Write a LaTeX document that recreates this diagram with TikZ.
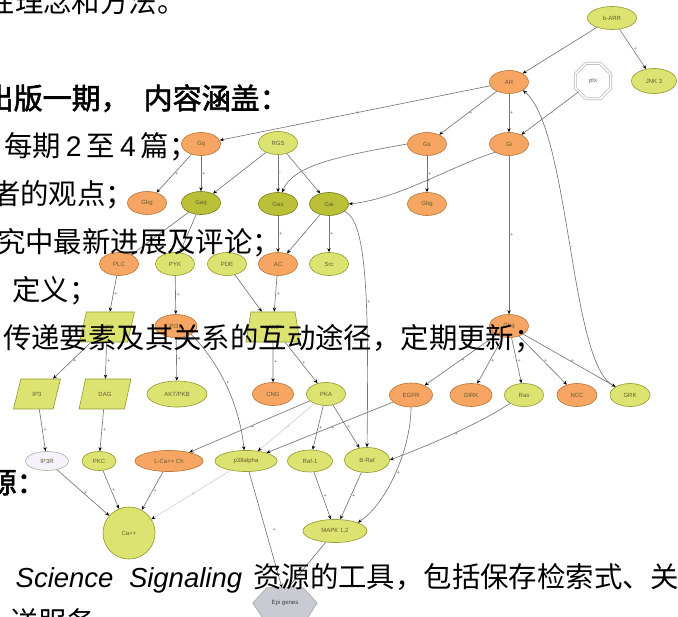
\documentclass[tikz,border=0pt]{standalone}
\usepackage{fontspec}
\setmainfont{Liberation Sans}
\newfontfamily\lat{Liberation Sans}
\newfontfamily\cjk{Noto Sans CJK SC}
\newfontfamily\cjkbold{Noto Sans CJK SC}[FakeBold=2]
\usetikzlibrary{shapes.geometric,arrows.meta,positioning}

\definecolor{orngfill}{RGB}{246,166,98}
\definecolor{orngline}{RGB}{185,120,62}
\definecolor{grnfill}{RGB}{221,227,112}
\definecolor{grnline}{RGB}{150,156,52}
\definecolor{olvfill}{RGB}{186,193,56}
\definecolor{olvline}{RGB}{122,128,32}
\definecolor{labeltxt}{RGB}{100,92,50}
\definecolor{edgegray}{RGB}{118,118,118}
\definecolor{lavfill}{RGB}{246,242,250}
\definecolor{epifill}{RGB}{200,204,210}

\tikzset{
  bio/.style={ellipse, draw, line width=0.65pt, minimum width=39pt, minimum height=23pt,
    inner sep=0.5pt, font=\fontsize{6}{6}\selectfont, text=labeltxt},
  orng/.style={bio, fill=orngfill, draw=orngline},
  grn/.style={bio, fill=grnfill, draw=grnline},
  olv/.style={bio, fill=olvfill, draw=olvline},
  para/.style={trapezium, trapezium left angle=68, trapezium right angle=112, trapezium stretches=true,
    draw=grnline, fill=grnfill, line width=0.65pt, minimum width=52pt, minimum height=30pt,
    inner sep=1pt, font=\fontsize{6}{6}\selectfont, text=labeltxt},
  conn/.style={draw=edgegray, line width=0.65pt, -{Stealth[length=4pt, width=3.4pt, color=black]}},
  faint/.style={conn, draw=gray!35},
  sgn/.style={right, font=\fontsize{5.5}{5.5}\selectfont, text=gray!80!black, inner sep=0.8pt},
  txt/.style={anchor=base west, inner sep=0pt, font=\cjk\fontsize{28.4}{30}\selectfont},
  head/.style={txt, font=\cjkbold\fontsize{29}{30}\selectfont},
}

\begin{document}
\begin{tikzpicture}[x=1pt, y=-1pt]
\useasboundingbox (0,0) rectangle (678,617);

% receptors
\node[grn, minimum width=49pt] (bARR) at (612,18) {b-ARR};
\node[grn, minimum width=45pt, minimum height=25pt] (JNK) at (654,81) {JNK 3};
\node[orng] (AR) at (509,82) {AR};
\node[regular polygon, regular polygon sides=8, minimum size=38pt, inner sep=0pt, draw=gray!55,
  double=white, double distance=1.6pt, line width=0.7pt, font=\fontsize{6}{6}\selectfont,
  text=labeltxt] (ptx) at (593,81) {ptx};

% G proteins
\node[orng] (Gq) at (201,144) {Gq};
\node[grn] (RGS) at (278,143) {RGS};
\node[orng] (Gs) at (427,144) {Gs};
\node[orng] (Gi) at (509,144) {Gi};
\node[orng] (Gbgl) at (147,203) {Gbg};
\node[olv] (Gaq) at (201,203) {Gaq};
\node[olv] (Gas) at (278,204) {Gas};
\node[olv] (Gai) at (329,204) {Gai};
\node[orng] (Gbgr) at (427,204) {Gbg};

% effectors
\node[orng] (PLC) at (119,264) {PLC};
\node[grn] (PYK) at (175,264) {PYK};
\node[grn] (PDE) at (227,264) {PDE};
\node[orng] (AC) at (278,264) {AC};
\node[grn] (Src) at (329,264) {Src};

\node[para, minimum width=55pt] (PIP2) at (107,327) {PIP2};
\node[orng, minimum width=42pt] (PI3K) at (176,326) {PI3K};
\node[trapezium, trapezium angle=72, trapezium stretches=true, draw=grnline, fill=grnfill,
  line width=0.65pt, minimum width=54pt, minimum height=30pt, inner sep=1pt,
  font=\fontsize{6}{6}\selectfont, text=labeltxt] (cAMP) at (273,327) {cAMP};
\node[orng] (Gbgm) at (509,326) {Gbg};

% second row of targets
\node[para, minimum width=47pt] (IP3) at (37,394) {IP3};
\node[para] (DAG) at (105,394) {DAG};
\node[grn, minimum width=60pt, minimum height=26pt] (AKT) at (177,394) {AKT/PKB};
\node[orng, minimum width=41pt] (CNG) at (273,394) {CNG};
\node[grn] (PKA) at (326,394) {PKA};
\node[orng, minimum width=43pt, minimum height=24pt] (EGFR) at (411,395) {EGFR};
\node[orng, minimum width=42pt] (GIRK) at (471,395) {GIRK};
\node[grn] (Ras) at (524,395) {Ras};
\node[orng, minimum width=40pt] (NCC) at (577,395) {NCC};
\node[grn, minimum width=40pt] (GRK) at (630,395) {GRK};

% kinases and channels
\node[bio, fill=lavfill, draw=gray!60, minimum width=43pt, minimum height=19pt] (IP3R) at (47,461) {IP3R};
\node[grn, minimum width=34pt, minimum height=19pt] (PKC) at (99,461) {PKC};
\node[orng, minimum width=68pt, minimum height=21pt] (LCa) at (169,461) {L-Ca++ Ch};
\node[grn, minimum width=62pt, minimum height=21pt] (p38) at (246,461) {p38alpha};
\node[grn, minimum width=45pt, minimum height=22pt] (Raf) at (310,461) {Raf-1};
\node[grn, minimum width=45pt, minimum height=25pt] (BRaf) at (367,460) {B-Raf};
\node[circle, draw=grnline, fill=grnfill, line width=0.65pt, minimum size=52pt,
  font=\fontsize{6}{6}\selectfont, text=labeltxt] (Ca) at (129,533) {Ca++};
\node[grn, minimum width=64pt] (MAPK) at (335,531) {MAPK 1,2};
\node[minimum width=64pt, minimum height=30pt, inner sep=0pt] (epi) at (285,603) {};
\fill[epifill, draw=gray!70, line width=0.65pt] (epi.west) -- ([xshift=14pt]epi.north west)
  -- ([xshift=-14pt]epi.north east) -- (epi.east) -- ([xshift=-10pt]epi.south east)
  -- ([xshift=10pt]epi.south west) -- cycle;
\node[font=\fontsize{6}{6}\selectfont, text=gray!50!black] at (epi) {Epi genes};

% connectors
\draw[conn] (bARR) -- node[sgn] {-} (AR);
\draw[conn] (bARR) -- node[sgn] {+} (JNK);
\draw[conn] (AR) -- node[sgn] {+} (Gq);
\draw[conn] (AR) -- node[sgn] {+} (Gs);
\draw[conn] (AR) -- node[sgn] {+} (Gi);
\draw[conn] (ptx) -- node[sgn] {-} (Gi);
\draw[conn] (GRK.north west) .. controls +(-46,-15) and +(48,40) .. node[sgn] {-} (AR.south east);

\draw[conn] (Gq) -- node[sgn] {+} (Gbgl);
\draw[conn] (Gq) -- node[sgn] {+} (Gaq);
\draw[conn] (RGS) -- node[sgn] {-} (Gaq);
\draw[conn] (RGS) -- node[sgn] {-} (Gas);
\draw[conn] (RGS) -- node[sgn] {-} (Gai);
\draw[conn] (Gs.west) .. controls +(-68,12) and +(10,-27) .. (Gas.70);
\draw[conn] (Gs) -- node[sgn] {+} (Gbgr);
\draw[conn] (Gi.south west) .. controls +(-40,12) and +(50,-5) .. node[sgn] {+} (Gai.east);
\draw[conn] (Gi) -- node[sgn] {+} (Gbgm);

\draw[conn] (Gaq) -- (PLC);
\draw[conn] (Gaq) -- (PYK);
\draw[conn] (Gas) -- node[sgn] {+} (AC);
\draw[conn] (Gai) -- node[sgn] {-} (AC);
\draw[conn] (Gai) -- node[sgn] {+} (Src);
\draw[conn] (Gai.-25) .. controls +(22,10) and +(2,-150) .. node[sgn, pos=.6] {+} (BRaf.north);

\draw[conn] (PLC) -- node[sgn] {+} (PIP2);
\draw[conn] (PYK) -- node[sgn] {+} (PI3K);
\draw[conn] (PDE) -- (cAMP);
\draw[conn] (AC) -- node[sgn] {+} (cAMP);
\foreach \t in {EGFR, GIRK, Ras, NCC, GRK}
  \draw[conn] (Gbgm) -- node[sgn] {+} (\t);

\draw[conn] (PIP2) -- node[sgn] {+} (IP3);
\draw[conn] (PIP2) -- node[sgn] {+} (DAG);
\draw[conn] (PI3K) -- node[sgn] {+} (AKT);
\draw[conn] (PI3K.south east) .. controls +(25,25) and +(-5,-50) .. node[sgn] {+} (p38.100);
\draw[conn] (cAMP) -- node[sgn] {+} (CNG);
\draw[conn] (cAMP) -- node[sgn] {+} (PKA);

\draw[conn] (IP3) -- node[sgn] {+} (IP3R);
\draw[conn] (DAG) -- node[sgn] {+} (PKC);
\draw[conn] (PKA) -- node[sgn] {+} (LCa);
\draw[faint] (PKA) -- node[sgn] {-} (p38);
\draw[conn] (PKA) -- node[sgn] {+} (Raf);
\draw[conn] (PKA) -- node[sgn] {+} (BRaf);
\draw[conn] (EGFR) -- node[sgn] {+} (p38);
\draw[conn] (EGFR.south) .. controls +(0,40) and +(30,-20) .. node[sgn] {+} (MAPK.north east);
\draw[conn] (Ras.south west) .. controls +(-30,20) and +(40,-15) .. node[sgn] {+} (BRaf.east);

\draw[conn] (IP3R) -- node[sgn] {+} (Ca);
\draw[conn] (PKC) -- node[sgn] {+} (Ca);
\draw[conn] (LCa) -- node[sgn] {+} (Ca);
\draw[faint] (p38) -- node[sgn] {-} (Ca);
\draw[conn] (Raf) -- node[sgn] {+} (MAPK);
\draw[conn] (BRaf) -- node[sgn] {+} (MAPK);
\draw[conn] (p38) -- node[sgn, right=6pt] {+} ([xshift=-3pt]epi.north);
\draw[conn] (MAPK) -- ([xshift=3pt]epi.north);

% text of the page, over the diagram
\node[txt] (line1) at (-13.5,13) {性理念和方法。};
\node[head] (line2) at (-15.5,109) {出版一期，\hspace{14pt}内容涵盖：};
\node[txt] (line3) at (4,157) {每期\hspace{5pt}{\lat 2}\hspace{5pt}至\hspace{5pt}{\lat 4}\hspace{5pt}篇；};
\node[txt] (line4) at (-8,205) {者的观点；};
\node[txt] (line5) at (-3,253) {究中最新进展及评论；};
\node[txt] (line6) at (12,301) {定义；};
\node[txt] (line7) at (3,349) {传递要素及其关系的互动途径，定期更新；};
\node[head] (line8) at (-12.5,493) {源：};
\node[anchor=base west, inner sep=0pt, font=\lat\itshape\fontsize{27.5}{30}\selectfont]
  (line9) at (15.5,587) {Science\hspace{15.5pt}Signaling};
\node[txt] (line9b) at (253,587) {资源的工具，包括保存检索式、关};
\node[txt] (line10) at (10,632) {送服务};
\end{tikzpicture}
\end{document}
